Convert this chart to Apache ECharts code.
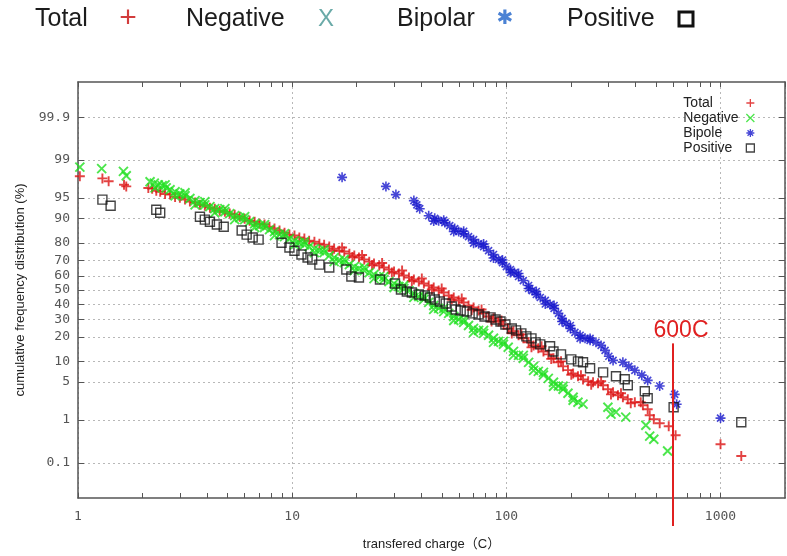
<!DOCTYPE html>
<html><head><meta charset="utf-8">
<script src="https://cdn.jsdelivr.net/npm/echarts@6/dist/echarts.min.js"></script>
<style>html,body{margin:0;padding:0;background:#fff}#c{width:787px;height:556px}</style>
</head><body><div id="c"></div>
<script>
// ---------- data (charge in C, cumulative frequency in %) ----------
const totalCharge = [1.02,1.30,1.39,1.64,1.68,2.13,2.22,2.32,2.42,2.55,2.69,2.84,2.99,3.16,3.33,3.52,3.71,3.91,4.13,4.35,4.59,4.85,5.11,5.39,5.69,6.0,6.33,6.68,7.05,7.43,7.84,8.27,8.73,9.21,9.71,10.25,10.8,11.4,12.0,12.7,13.4,14.1,14.9,15.7,16.6,17.5,18.5,19.5,20.5,21.7,22.9,24.1,25.5,26.8,28.3,29.9,31.5,33.2,35.1,37.0,39.0,41.2,43.4,45.8,48.3,51.0,53.8,56.8,59.9,63.2,66.6,70.3,74.2,78.3,82.6,87.1,91.9,96.9,102,108,114,120,127,134,141,149,157,166,175,184,194,205,216,228,241,254,268,283,298,315,332,350,369,398,434,457,467,488,520,573,617,1000,1250,
  15.4,17.1,19.1,21.2,23.6,26.3,29.2,32.6,36.2,40.3,44.9,49.9,55.6,61.9,68.9,76.6,85.3,94.9,106,117.5,131,146,162,180,201,223,249,277,308,343,381,424];
const totalPct = [97.9,97.7,97.4,97.0,96.8,96.6,96.5,96.2,96.05,95.7,95.6,95.2,95.05,94.7,94.3,94.1,93.6,93.4,92.95,92.7,92.2,91.9,91.4,91.1,90.5,89.9,89.2,88.9,88.2,87.9,87.1,86.4,85.6,84.7,83.9,83.5,82.6,82.1,81.1,80.6,79.6,79.1,78.1,77.0,75.9,75.4,74.2,73.1,71.9,70.7,69.4,68.2,66.9,65.6,64.3,62.9,61.6,60.2,58.8,57.4,56.0,54.6,53.2,51.8,49.6,48.2,46.1,44.7,42.6,41.2,39.1,37.7,35.7,33.8,31.8,30.6,28.7,26.9,24.6,23.0,20.9,19.4,17.5,16.1,14.9,13.6,12.5,11.1,9.8,8.6,7.6,6.8,6.15,5.5,5.13,4.95,4.77,4.43,3.8,3.38,3.0,2.76,2.54,2.24,1.97,1.65,1.26,1.04,0.86,0.74,0.47,0.29,0.15,
  75.9,77.6,72.2,73.4,67.2,68.5,62.2,63.6,56.4,58.1,50.4,51.1,43.3,44.0,36.1,36.4,28.7,29.3,21.9,21.4,15.25,15.7,10.9,10.1,6.5,6.36,4.5,5.13,3.1,3.24,2.14,2.24];

const negCharge = [1.02,1.29,1.63,1.68,2.17,2.27,2.37,2.47,2.58,2.69,2.84,2.99,3.16,3.33,3.52,3.71,3.91,4.13,4.35,4.59,4.85,5.11,5.39,5.69,6.0,6.33,6.68,7.05,7.43,7.84,8.27,8.73,9.21,9.71,10.25,10.8,11.4,12.0,12.7,13.4,14.1,14.9,15.7,16.6,17.5,18.5,19.5,20.5,21.7,22.9,24.1,25.5,26.8,28.3,29.9,31.5,33.2,35.1,37.0,39.0,41.2,43.4,45.8,48.3,51.0,53.8,56.8,59.9,63.2,66.6,70.3,74.2,78.3,82.6,87.1,91.9,96.9,102,108,114,120,127,134,141,149,157,166,175,184,194,205,216,228,298,308,325,361,448,467,488,566,
  2.29,2.55,2.84,3.16,3.52,3.91,4.35,4.85,5.39,6.0,6.68,7.43,8.27,9.21,10.25,11.4,12.7,14.1,15.7,17.5,19.5,21.7,24.1,26.8,29.9,33.2,37.0,41.2,45.8,51.0,56.8,63.2,70.3,78.3,87.1,96.9,108,120,134,149,166,184,205];
const negPct = [98.6,98.5,98.3,97.95,97.35,97.2,97.0,96.9,96.6,96.35,96.05,95.7,95.4,94.9,94.5,94.1,93.6,93.2,92.7,92.45,91.9,91.4,90.8,90.2,89.6,88.9,88.2,87.5,86.8,86.0,85.2,83.9,83.0,82.1,81.1,80.1,79.1,78.1,77.0,75.9,74.8,73.1,71.9,70.1,68.8,67.5,66.2,64.9,63.6,62.2,60.9,59.5,57.4,56.0,54.6,52.5,51.1,49.6,47.5,45.4,43.3,41.2,39.1,37.1,35.0,33.8,31.8,29.9,28.1,26.3,24.6,23.5,21.9,20.9,19.4,17.9,16.6,15.3,13.6,12.1,11.1,9.8,8.6,7.3,6.4,5.7,4.95,4.3,3.8,3.24,2.76,2.24,2.06,1.8,1.32,1.45,1.15,0.78,0.45,0.38,0.2,
  96.6,97.0,95.4,95.9,93.6,94.3,91.65,92.7,89.6,90.5,86.8,87.9,83.45,84.3,79.1,80.6,74.8,76.5,69.4,70.7,63.6,65.6,58.1,59.5,51.8,53.2,44.7,45.4,36.4,37.1,29.3,29.9,22.4,23.5,17.45,17.9,12.1,12.1,7.55,7.05,4.27,4.27,2.43];

const bipCharge = [17.1,27.4,30.5,37.0,38.2,39.4,43.4,46.3,48.3,51.6,54.4,57.4,59.9,63.2,66.6,70.3,74.2,78.3,82.6,87.1,91.9,95.9,100,104.5,109,114,120,127,132,138,144,152,160,167,175,182,190,199,209,221,233,246,262,277,289,301,315,350,373,398,429,457,520,611,624,1000,
  45.8,51.0,56.8,63.2,70.3,78.3,87.1,95.9,104.5,114,127,138,152,167,182,199,221,246];
const bipPct = [97.8,96.8,95.6,94.5,93.6,92.7,90.8,90.0,89.2,88.6,87.5,86.4,85.2,84.3,83.0,81.6,79.6,78.1,75.9,73.7,70.7,68.8,66.2,64.3,62.2,59.5,56.7,53.2,49.6,46.8,44.7,42.6,39.8,37.1,33.8,30.6,27.5,24.6,22.4,20.9,19.4,18.4,17.5,16.1,14.0,11.8,10.4,9.8,8.6,7.55,6.4,5.3,4.3,3.1,2.06,1.1,
  89.1,89.4,85.2,85.3,79.9,79.4,71.6,70.4,62.3,61.6,51.1,48.9,40.1,39.1,28.7,26.3,19.35,19.35];

const posCharge = [1.30,1.42,2.32,2.42,3.71,3.91,4.13,4.45,4.79,5.81,6.13,6.54,6.97,8.92,9.71,10.25,11.05,11.8,12.4,13.4,14.9,17.9,18.9,20.5,25.7,30.2,32.2,34.3,36.2,39.0,41.6,43.9,46.3,48.9,52.1,55.6,58.0,61.2,65.3,69.6,74.2,79.1,84.4,89.0,93.9,99,106,111,117.5,124,131,137,144,160,166,180,201,216,228,246,283,325,357,369,443,457,604,1250];
const posPct = [94.7,93.4,92.45,91.65,90.5,89.6,88.9,87.9,87.1,85.6,83.9,82.6,81.6,80.1,77.6,75.9,73.7,71.9,70.7,67.5,65.6,64.3,59.5,58.8,57.4,54.6,50.4,48.9,48.2,46.8,46.1,44.7,43.3,41.9,40.5,38.4,36.4,35.7,35.05,33.8,33.1,31.8,31.2,29.9,28.7,26.9,24.6,23.5,21.9,20.35,19.35,17.45,16.55,15.7,13.6,12.5,10.75,10.1,9.8,8.1,7.05,6.15,5.52,4.43,3.51,2.65,1.8,0.9];

const seriesNames = ['Total','Negative','Bipole','Positive'];
const captionNames = ['Total','Negative','Bipolar','Positive'];
const yTickLabels = ['99.9','99','95','90','80','70','60','50','40','30','20','10','5','1','0.1'];
const xTickValues = [1,2,3,4,5,6,7,8,9,10,20,30,40,50,60,70,80,90,100,200,300,400,500,600,700,800,900,1000,2000];
const xRange = [1, 2000];
const pctRange = [0.01, 99.99];
const cutoffCharge = 600;
const cutoffTopPct = 17;
const cutoffLabel = '600C';

// ---------- normal probability scale ----------
function probit(p){
  const a=[-3.969683028665376e+01,2.209460984245205e+02,-2.759285104469687e+02,1.383577518672690e+02,-3.066479806614716e+01,2.506628277459239e+00];
  const b=[-5.447609879822406e+01,1.615858368580409e+02,-1.556989798598866e+02,6.680131188771972e+01,-1.328068155288572e+01];
  const c=[-7.784894002430293e-03,-3.223964580411365e-01,-2.400758277161838e+00,-2.549732539343734e+00,4.374664141464968e+00,2.938163982698783e+00];
  const d=[7.784695709041462e-03,3.224671290700398e-01,2.445134137142996e+00,3.754408661907416e+00];
  const pl=0.02425, ph=1-pl; let q,r;
  if(p<pl){q=Math.sqrt(-2*Math.log(p));return (((((c[0]*q+c[1])*q+c[2])*q+c[3])*q+c[4])*q+c[5])/((((d[0]*q+d[1])*q+d[2])*q+d[3])*q+1);}
  if(p<=ph){q=p-0.5;r=q*q;return (((((a[0]*r+a[1])*r+a[2])*r+a[3])*r+a[4])*r+a[5])*q/(((((b[0]*r+b[1])*r+b[2])*r+b[3])*r+b[4])*r+1);}
  q=Math.sqrt(-2*Math.log(1-p));return -(((((c[0]*q+c[1])*q+c[2])*q+c[3])*q+c[4])*q+c[5])/((((d[0]*q+d[1])*q+d[2])*q+d[3])*q+1);
}
const yMin = probit(pctRange[0]/100), yMax = probit(pctRange[1]/100);
const yTickValues = yTickLabels.map(s => probit(parseFloat(s)/100));
function yLabel(v){ for(let i=0;i<yTickValues.length;i++){ if(Math.abs(yTickValues[i]-v)<1e-6) return yTickLabels[i]; } return ''; }
const toPoints = (xs, ps) => xs.map((x,i) => [x, probit(ps[i]/100)]);

const PLUS='path://M0,5L10,5M5,0L5,10';
const CROSS='path://M0,0L10,10M0,10L10,0';
const STAR='path://M5,0L5,10M0,5L10,5M1.5,1.5L8.5,8.5M1.5,8.5L8.5,1.5';

const grid = {left:78, top:82, width:707, height:417};
const axisLineStyle = {color:'#555', width:1.5};
const gridLineStyle = {color:'#b8b8b8', type:[2,3], width:1};
const monoFont = '"DejaVu Sans Mono", monospace';
const sansFont = '"Liberation Sans", Arial, "Noto Sans CJK JP", sans-serif';

function scatter(name, xs, ps, symbol, size, color, bw){
  return {type:'scatter', name, xAxisIndex:0, yAxisIndex:0, symbol, symbolSize:size,
    data: toPoints(xs, ps), itemStyle:{color:'transparent', borderColor:color, borderWidth:bw},
    emphasis:{disabled:true}, silent:true};
}

const chart = echarts.init(document.getElementById('c'), null, {renderer:'canvas'});
const option = {
  backgroundColor:'#fff',
  animation:false,
  grid,
  xAxis:[
    {type:'log', logBase:10, min:xRange[0], max:xRange[1], position:'bottom',
     axisLine:{show:true, onZero:false, lineStyle:axisLineStyle}, axisTick:{show:true, inside:true, length:5, customValues:xTickValues, lineStyle:{color:'#555'}},
     axisLabel:{margin:12, color:'#555', fontFamily:monoFont, fontSize:13, showMaxLabel:false, formatter:v=>String(Math.round(v))},
     splitLine:{show:false},
     name:'transfered charge（C）', nameLocation:'middle', nameGap:40,
     nameTextStyle:{fontFamily:sansFont, fontSize:13, color:'#222'}},
    {type:'log', logBase:10, min:xRange[0], max:xRange[1], position:'top',
     axisLine:{show:true, onZero:false, lineStyle:axisLineStyle}, axisTick:{show:true, inside:true, length:5, customValues:xTickValues, lineStyle:{color:'#555'}},
     axisLabel:{show:false}, splitLine:{show:false}},
    {type:'log', logBase:10, min:xRange[0], max:xRange[1], position:'bottom',
     axisLine:{show:false, onZero:false}, axisTick:{show:false}, axisLabel:{show:false},
     splitLine:{show:true, lineStyle:gridLineStyle}}
  ],
  yAxis:[
    {type:'value', min:yMin, max:yMax, position:'left',
     axisLine:{show:true, onZero:false, lineStyle:axisLineStyle}, axisTick:{show:true, inside:true, length:6, customValues:yTickValues, lineStyle:{color:'#555'}},
     axisLabel:{customValues:yTickValues, formatter:yLabel, margin:8, color:'#555', fontFamily:monoFont, fontSize:13},
     splitLine:{show:true, lineStyle:gridLineStyle},
     name:'cumulative frequency distribution (%)', nameLocation:'middle', nameGap:51, nameRotate:90,
     nameTextStyle:{fontFamily:sansFont, fontSize:13, color:'#222'}},
    {type:'value', min:yMin, max:yMax, position:'right',
     axisLine:{show:true, onZero:false, lineStyle:axisLineStyle}, axisTick:{show:true, inside:true, length:6, customValues:yTickValues, lineStyle:{color:'#555'}},
     axisLabel:{show:false}, splitLine:{show:false}}
  ],
  legend:{
    data: seriesNames, orient:'vertical', right:27, top:91, align:'right',
    itemWidth:8, itemHeight:8, itemGap:1, selectedMode:false,
    itemStyle:{borderWidth:1.3},
    formatter:'{a|{name}}',
    textStyle:{rich:{a:{width:58, align:'left', fontFamily:sansFont, fontSize:14, color:'#222', lineHeight:15}}}
  },
  graphic:[
    {type:'text', x:35, y:19, style:{text:captionNames[0], font:'25px "Liberation Sans"', fill:'#1c1c1c', textVerticalAlign:'middle', verticalAlign:'middle'}},
    {type:'text', x:128, y:19, style:{text:'+', font:'30px "Liberation Sans"', fill:'#d23c3c', textAlign:'center', align:'center', textVerticalAlign:'middle', verticalAlign:'middle'}},
    {type:'text', x:186, y:19, style:{text:captionNames[1], font:'25px "Liberation Sans"', fill:'#1c1c1c', textVerticalAlign:'middle', verticalAlign:'middle'}},
    {type:'text', x:326, y:19, style:{text:'X', font:'24px "Liberation Sans"', fill:'#6aaaa8', textAlign:'center', align:'center', textVerticalAlign:'middle', verticalAlign:'middle'}},
    {type:'text', x:397, y:19, style:{text:captionNames[2], font:'25px "Liberation Sans"', fill:'#1c1c1c', textVerticalAlign:'middle', verticalAlign:'middle'}},
    {type:'text', x:505, y:19, style:{text:'✱', font:'20px "DejaVu Sans"', fill:'#4b82d4', textAlign:'center', align:'center', textVerticalAlign:'middle', verticalAlign:'middle'}},
    {type:'text', x:567, y:19, style:{text:captionNames[3], font:'25px "Liberation Sans"', fill:'#1c1c1c', textVerticalAlign:'middle', verticalAlign:'middle'}},
    {type:'rect', shape:{x:679, y:12, width:14, height:14}, style:{fill:'none', stroke:'#111', lineWidth:3}}
  ],
  series:[
    scatter(seriesNames[0], totalCharge, totalPct, PLUS, 10, '#dc1414', 1.9),
    scatter(seriesNames[1], negCharge, negPct, CROSS, 9, '#1fe01f', 1.9),
    scatter(seriesNames[2], bipCharge, bipPct, STAR, 10, '#1818cc', 1.6),
    scatter(seriesNames[3], posCharge, posPct, 'rect', 9, '#151515', 1.4),
    {type:'custom', xAxisIndex:0, yAxisIndex:0, silent:true, clip:false, z:10,
     data:[[cutoffCharge, probit(cutoffTopPct/100)]],
     renderItem:function(params, api){
       const top = api.coord([api.value(0), api.value(1)]);
       const bottom = api.coord([api.value(0), yMin]);
       return {type:'group', children:[
         {type:'line', shape:{x1:top[0], y1:top[1], x2:top[0], y2:bottom[1]+28}, style:{stroke:'#e02020', lineWidth:2}},
         {type:'text', x:top[0]+8, y:top[1]-1, style:{text:cutoffLabel, fill:'#e02020', font:'23px "Liberation Sans"', textAlign:'center', align:'center', textVerticalAlign:'bottom', verticalAlign:'bottom'}}
       ]};
     }}
  ]
};
chart.setOption(option);
</script></body></html>
